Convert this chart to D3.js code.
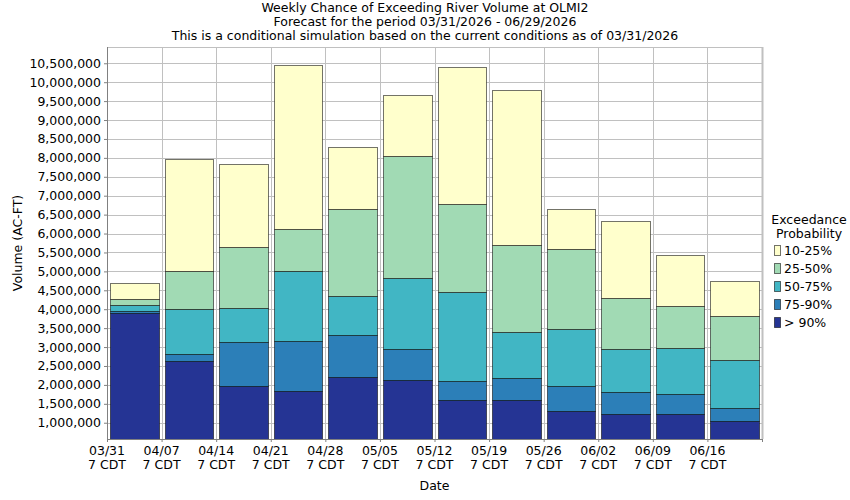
<!DOCTYPE html>
<html>
<head>
<meta charset="utf-8">
<script src="https://cdn.jsdelivr.net/npm/d3@7"></script>
<style>
  body { margin: 0; background: #fff; }
  svg { font-family: "DejaVu Sans", sans-serif; }
</style>
</head>
<body>
<svg id="canvas" width="850" height="500"></svg>
<script>
(function () {
    // week start dates (2026), last one closes the final bar
    var weekStarts = ["2026-03-31", "2026-04-07", "2026-04-14", "2026-04-21", "2026-04-28", "2026-05-05",
        "2026-05-12", "2026-05-19", "2026-05-26", "2026-06-02", "2026-06-09", "2026-06-16", "2026-06-23"];
    var tickLabels = ["03/31", "04/07", "04/14", "04/21", "04/28", "05/05",
        "05/12", "05/19", "05/26", "06/02", "06/09", "06/16"];

    // exceedance levels (top of each band), AC-FT
    var p90 = [3910000, 2630000, 1970000, 1830000, 2210000, 2120000, 1590000, 1590000, 1310000, 1230000, 1220000, 1045000];
    var p75 = [3960000, 2810000, 3125000, 3160000, 3310000, 2950000, 2095000, 2175000, 1960000, 1810000, 1750000, 1380000];
    var p50 = [4100000, 4000000, 4025000, 5020000, 4340000, 4820000, 4450000, 3390000, 3470000, 2940000, 2965000, 2650000];
    var p25 = [4260000, 5000000, 5640000, 6110000, 6640000, 8040000, 6775000, 5690000, 5585000, 4290000, 4075000, 3815000];
    var p10 = [4685000, 7965000, 7830000, 10450000, 8280000, 9655000, 10395000, 9790000, 6640000, 6325000, 5425000, 4740000];

    var yTicks = d3.range(1000000, 10500001, 500000);

    var series = [
        { name: "> 90%", color: "#253494", values: p90 },
        { name: "75-90%", color: "#2c7fb8", values: p75 },
        { name: "50-75%", color: "#41b6c4", values: p50 },
        { name: "25-50%", color: "#a1dab4", values: p25 },
        { name: "10-25%", color: "#ffffcc", values: p10 }
    ];

    var fs = "12.5px";
    var margin = { top: 47, left: 107, right: 88, bottom: 61 };
    var width = 850 - margin.left - margin.right, height = 500 - margin.top - margin.bottom;

    var parse = d3.utcParse("%Y-%m-%d");
    var dates = weekStarts.map(parse);

    const svg = d3.select("#canvas");

    // titles
    var titles = ["Weekly Chance of Exceeding River Volume at OLMI2",
        "Forecast for the period 03/31/2026 - 06/29/2026",
        "This is a conditional simulation based on the current conditions as of 03/31/2026"];
    svg.append("g").selectAll("text")
        .data(titles)
        .join("text")
        .attr("x", 425)
        .attr("y", function (d, i) { return 12 + i * 14; })
        .attr("text-anchor", "middle")
        .style("font-size", fs)
        .text(function (d) { return d; });

    const chart = svg.append("g")
        .attr("transform", `translate(${margin.left}, ${margin.top})`);

    var x = d3.scaleUtc()
        .domain([dates[0], dates[dates.length - 1]])
        .range([0, width]);

    var y = d3.scaleLinear()
        .domain([570000, 10930000])
        .range([height, 0]);

    // grid
    chart.append("g").selectAll("line.h")
        .data(yTicks)
        .join("line")
        .attr("x1", 0).attr("x2", width)
        .attr("y1", function (d) { return Math.round(y(d)) + 0.5; })
        .attr("y2", function (d) { return Math.round(y(d)) + 0.5; })
        .attr("stroke", "#c0c0c0");

    chart.append("g").selectAll("line.v")
        .data(dates)
        .join("line")
        .attr("x1", function (d) { return Math.round(x(d)) + 0.5; })
        .attr("x2", function (d) { return Math.round(x(d)) + 0.5; })
        .attr("y1", 0).attr("y2", height)
        .attr("stroke", "#c0c0c0");

    // top and right border
    chart.append("line").attr("x1", 0).attr("x2", width).attr("y1", 0.5).attr("y2", 0.5).attr("stroke", "#c0c0c0");
    chart.append("line").attr("x1", width + 0.5).attr("x2", width + 0.5).attr("y1", 0).attr("y2", height)
        .attr("stroke", "#c0c0c0").attr("stroke-width", 2);

    // bars
    var n = p90.length;
    series.forEach(function (s, k) {
        chart.append("g").selectAll("rect")
            .data(d3.range(n))
            .join("rect")
            .attr("x", function (i) { return Math.round(x(dates[i])) + 3.5; })
            .attr("width", function (i) { return Math.round(x(dates[i + 1])) - Math.round(x(dates[i])) - 6; })
            .attr("y", function (i) { return Math.round(y(s.values[i])) + 0.5; })
            .attr("height", function (i) {
                var base = k === 0 ? y.domain()[0] : series[k - 1].values[i];
                return Math.round(y(base)) - Math.round(y(s.values[i]));
            })
            .attr("fill", s.color)
            .attr("stroke", "#000")
            .attr("stroke-opacity", 0.55);
    });

    // axes
    var yAxis = chart.append("g")
        .call(d3.axisLeft(y).tickValues(yTicks).tickSize(3).tickPadding(3).tickFormat(d3.format(",")));
    yAxis.select(".domain").attr("stroke", "#808080").attr("d", "M0.5,0V" + height);
    yAxis.selectAll(".tick line").attr("stroke", "#808080");
    yAxis.selectAll("text").style("font-size", fs).attr("fill", "#000");
    yAxis.attr("font-family", null);

    var xAxis = chart.append("g")
        .attr("transform", "translate(0," + height + ")")
        .call(d3.axisBottom(x).tickValues(dates).tickSize(3).tickFormat(""));
    xAxis.select(".domain").attr("stroke", "#808080").attr("d", "M0," + 0.5 + "H" + width);
    xAxis.selectAll(".tick line").attr("stroke", "#808080");
    xAxis.attr("font-family", null);

    var lbl = chart.append("g").selectAll("text")
        .data(tickLabels)
        .join("text")
        .attr("x", function (d, i) { return x(dates[i]); })
        .attr("y", height + 16)
        .attr("text-anchor", "middle")
        .style("font-size", fs);
    lbl.append("tspan").attr("x", function (d, i) { return x(dates[i]); }).text(function (d) { return d; });
    lbl.append("tspan").attr("x", function (d, i) { return x(dates[i]); }).attr("dy", 14).text("7 CDT");

    // axis titles
    chart.append("text")
        .attr("x", width / 2)
        .attr("y", height + 51)
        .attr("text-anchor", "middle")
        .style("font-size", fs)
        .text("Date");

    chart.append("text")
        .attr("transform", "translate(" + (-85) + "," + (height / 2) + ") rotate(-90)")
        .attr("text-anchor", "middle")
        .style("font-size", fs)
        .text("Volume (AC-FT)");

    // legend
    var legend = svg.append("g").attr("transform", "translate(774, 0)");
    legend.append("text").attr("x", 35).attr("y", 224).attr("text-anchor", "middle")
        .style("font-size", fs).text("Exceedance");
    legend.append("text").attr("x", 35).attr("y", 238).attr("text-anchor", "middle")
        .style("font-size", fs).text("Probability");

    var items = legend.selectAll("g.item")
        .data(series.slice().reverse())
        .join("g")
        .attr("transform", function (d, i) { return "translate(0," + (245 + i * 18) + ")"; });
    items.append("rect")
        .attr("x", 0.5).attr("y", 0.5)
        .attr("width", 6).attr("height", 10)
        .attr("fill", function (d) { return d.color; })
        .attr("stroke", "#000").attr("stroke-opacity", 0.55);
    items.append("text")
        .attr("x", 10).attr("y", 10)
        .style("font-size", fs)
        .text(function (d) { return d.name; });
})();
</script>
</body>
</html>
